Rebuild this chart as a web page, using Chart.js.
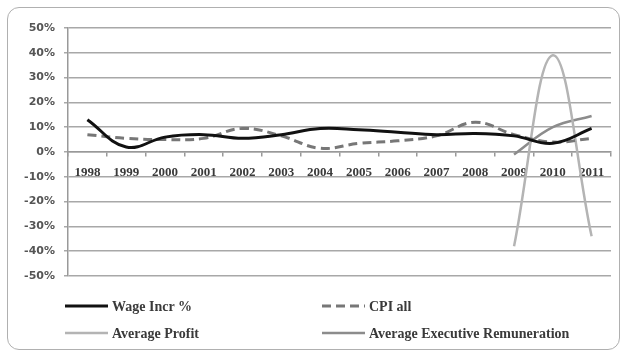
<!DOCTYPE html>
<html>
<head>
<meta charset="utf-8">
<script src="https://cdn.jsdelivr.net/npm/chart.js@4.4.1/dist/chart.umd.min.js"></script>
<style>
  html, body { margin: 0; padding: 0; background: #fff; }
  #wrap { position: relative; width: 624px; height: 354px; }
  #frame {
    position: absolute; left: 7px; top: 7px; width: 611px; height: 341px;
    border: 1.5px solid #b0b0b0; border-radius: 12px;
  }
  canvas { position: absolute; left: 0; top: 0; }
</style>
</head>
<body>
<div id="wrap">
  <div id="frame"></div>
  <canvas id="chart" width="624" height="354"></canvas>
</div>
<script>
const years = ["1998","1999","2000","2001","2002","2003","2004","2005","2006","2007","2008","2009","2010","2011"];

// percent values per year
const wageIncr = [13, 2, 6, 7, 5.5, 7, 9.5, 9, 8, 7, 7.5, 6.5, 3.5, 9.5];
const cpiAll   = [7, 5.5, 5, 5.5, 9.5, 6.5, 1.5, 3.5, 4.5, 6.5, 12, 7, 4, 5.5];
const avgProfit = [null, null, null, null, null, null, null, null, null, null, null, -38, 39, -34];
const avgExecRem = [null, null, null, null, null, null, null, null, null, null, null, -1, 10, 14.5];

const yMin = -50, yMax = 50, yStep = 10;

const serif = "'Liberation Serif', 'DejaVu Serif', serif";

// 2x2 legend at the bottom, drawn from the datasets
const gridLegend = {
  id: 'gridLegend',
  afterDraw(chart) {
    const ctx = chart.ctx;
    const cols = [65, 322];
    const rows = [306, 333];
    chart.data.datasets.forEach((ds, i) => {
      const x = cols[i % 2], y = rows[Math.floor(i / 2)];
      ctx.save();
      ctx.strokeStyle = ds.borderColor;
      ctx.lineWidth = ds.borderWidth;
      ctx.setLineDash(ds.borderDash || []);
      ctx.beginPath();
      ctx.moveTo(x, y);
      ctx.lineTo(x + 43, y);
      ctx.stroke();
      ctx.setLineDash([]);
      ctx.fillStyle = '#3a3a3a';
      ctx.font = "bold 14px " + serif;
      ctx.textBaseline = 'middle';
      ctx.fillText(ds.label, x + 47, y + 1);
      ctx.restore();
    });
  }
};

new Chart(document.getElementById('chart'), {
  type: 'line',
  data: {
    labels: years,
    datasets: [
      { label: 'Wage Incr %', data: wageIncr, borderColor: '#111', borderWidth: 3 },
      { label: 'CPI all', data: cpiAll, borderColor: '#777', borderWidth: 3, borderDash: [9, 5] },
      { label: 'Average Profit', data: avgProfit, borderColor: '#b4b4b4', borderWidth: 2.5 },
      { label: 'Average Executive Remuneration', data: avgExecRem, borderColor: '#8c8c8c', borderWidth: 2.5 }
    ]
  },
  options: {
    responsive: false,
    animation: false,
    layout: { padding: { left: 0, right: 13, top: 28, bottom: 78 } },
    elements: {
      point: { radius: 0 },
      line: { tension: 0.4, fill: false }
    },
    plugins: {
      legend: { display: false },
      tooltip: { enabled: false }
    },
    scales: {
      x: {
        position: { y: 0 },
        offset: true,
        grid: { offset: true, drawOnChartArea: false, color: '#999', tickLength: 4, lineWidth: 1.5 },
        border: { color: '#999', width: 1.5 },
        ticks: {
          color: '#3a3a3a', padding: 9, maxRotation: 0, autoSkip: false,
          font: { family: serif, size: 13, weight: 'bold' }
        }
      },
      y: {
        min: yMin, max: yMax,
        afterFit(scale) { scale.width = 68; },
        grid: { color: '#a8a8a8', lineWidth: 1.5, tickLength: 4 },
        border: { color: '#999', width: 1.5 },
        ticks: {
          stepSize: yStep, color: '#555', padding: 9,
          font: { family: "'DejaVu Sans', sans-serif", size: 11, weight: 'bold' },
          callback: v => v + '%'
        }
      }
    }
  },
  plugins: [gridLegend]
});
</script>
</body>
</html>
